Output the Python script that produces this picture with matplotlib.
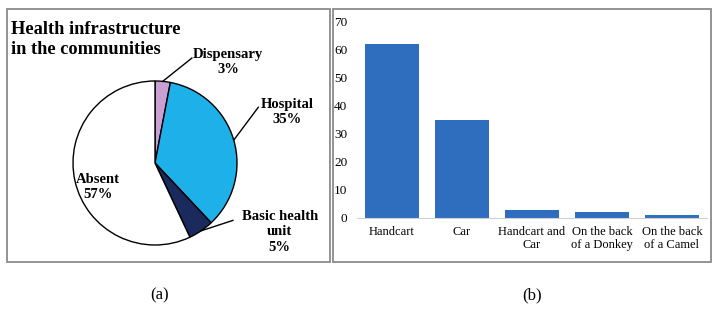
import numpy as np
import matplotlib
matplotlib.use("Agg")
from matplotlib import pyplot as plt
from matplotlib.patches import Rectangle

plt.rcParams['font.family'] = ['Liberation Serif', 'DejaVu Serif']

# pie data
pie_labels = ["Dispensary", "Hospital", "Basic health\nunit", "Absent"]
pie_values = [3, 35, 5, 57]
pie_colors = ["#c9a0d2", "#1eb0e8", "#1b2a5c", "#ffffff"]

# bar data
bar_labels = ["Handcart", "Car", "Handcart and\nCar", "On the back\nof a Donkey", "On the back\nof a Camel"]
bar_values = [62, 35, 3, 2, 1]
bar_color = "#2f6ebf"

W, H = 713, 327
fig = plt.figure(figsize=(W / 100, H / 100), dpi=100)


def px_axes(x, y, w, h):
    # x, y = top-left corner in pixels
    return fig.add_axes([x / W, (H - y - h) / H, w / W, h / H])


# panel frames
for x0, x1 in [(7, 330), (333, 711)]:
    fig.add_artist(Rectangle((x0 / W, (H - 262) / H), (x1 - x0) / W, (262 - 9) / H,
                             transform=fig.transFigure, fill=False,
                             edgecolor="#8a8a8a", linewidth=1.3))

# ---- (a) pie ----
r = 82
cx, cy = 155, 163
ax1 = px_axes(cx - r, cy - r, 2 * r, 2 * r)
ax1.pie(pie_values, colors=pie_colors, startangle=90, counterclock=False,
        wedgeprops=dict(edgecolor="black", linewidth=1.0))
ax1.set_xlim(-1, 1)
ax1.set_ylim(-1, 1)
ax1.set_aspect("equal")
ax1.axis("off")

# label positions (in pie radius units) and leader line ends
text_pos = [(0.89, 1.23), (1.61, 0.62), (1.52, -0.84), (-0.70, -0.29)]
line_end = [(0.45, 1.28), (1.26, 0.68), (0.95, -0.70), None]
cum = 0
for lab, val, tp, le in zip(pie_labels, pie_values, text_pos, line_end):
    mid = np.deg2rad(90 - (cum + val / 2) * 3.6)
    cum += val
    if le is not None:
        ax1.plot([np.cos(mid), le[0]], [np.sin(mid), le[1]], color="black",
                 linewidth=1.0, clip_on=False)
    ax1.text(tp[0], tp[1], f"{lab}\n{val}%", ha="center", va="center",
             fontsize=10.5, fontweight="bold", linespacing=1.25, clip_on=False)

fig.text(11 / W, 1 - 21 / H, "Health infrastructure\nin the communities",
         ha="left", va="top", fontsize=13.2, fontweight="bold", linespacing=1.2)

# ---- (b) bars ----
ax2 = px_axes(357, 22, 350, 196)
x = np.arange(len(bar_values))
ax2.bar(x, bar_values, width=0.77, color=bar_color)
ax2.set_xlim(-0.5, len(bar_values) - 0.5)
ax2.set_ylim(0, 70)
ax2.set_yticks(range(0, 71, 10))
ax2.set_xticks(x)
ax2.set_xticklabels(bar_labels, fontsize=9, linespacing=1.1)
ax2.tick_params(axis="y", labelsize=9.5, length=0, pad=7)
ax2.tick_params(axis="x", length=0, pad=6)
for s in ["top", "right", "left"]:
    ax2.spines[s].set_visible(False)
ax2.spines["bottom"].set_color("#d0d0d0")

# captions
fig.text(160 / W, 1 - 295 / H, "(a)", ha="center", va="center", fontsize=12)
fig.text(532 / W, 1 - 295 / H, "(b)", ha="center", va="center", fontsize=12)

fig.savefig("out.png", dpi=100)
